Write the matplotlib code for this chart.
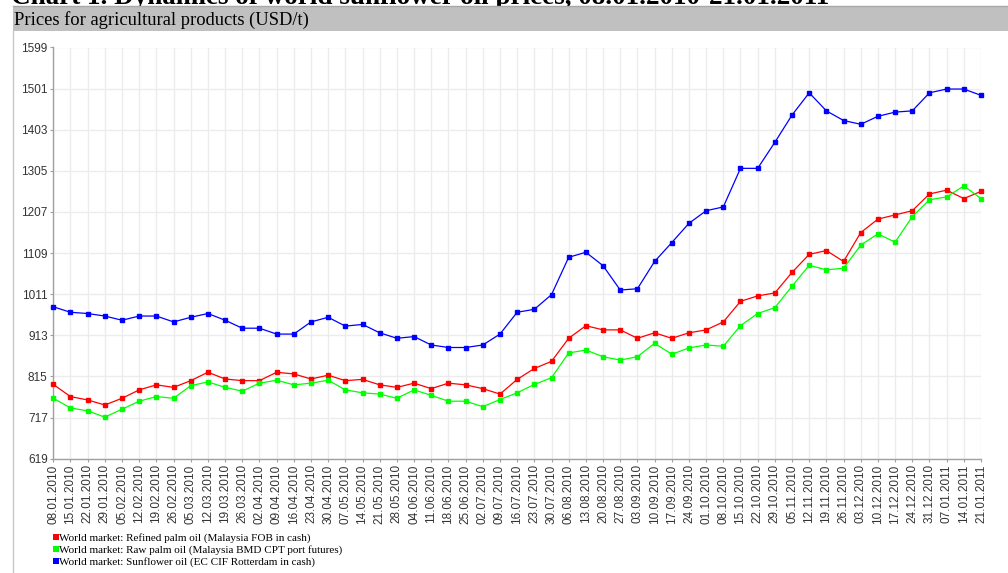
import matplotlib
matplotlib.use('Agg')
import matplotlib.pyplot as plt
from matplotlib.patches import Rectangle
from matplotlib.lines import Line2D

# weekly dates
dates = ['08.01.2010', '15.01.2010', '22.01.2010', '29.01.2010', '05.02.2010', '12.02.2010',
         '19.02.2010', '26.02.2010', '05.03.2010', '12.03.2010', '19.03.2010', '26.03.2010',
         '02.04.2010', '09.04.2010', '16.04.2010', '23.04.2010', '30.04.2010', '07.05.2010',
         '14.05.2010', '21.05.2010', '28.05.2010', '04.06.2010', '11.06.2010', '18.06.2010',
         '25.06.2010', '02.07.2010', '09.07.2010', '16.07.2010', '23.07.2010', '30.07.2010',
         '06.08.2010', '13.08.2010', '20.08.2010', '27.08.2010', '03.09.2010', '10.09.2010',
         '17.09.2010', '24.09.2010', '01.10.2010', '08.10.2010', '15.10.2010', '22.10.2010',
         '29.10.2010', '05.11.2010', '12.11.2010', '19.11.2010', '26.11.2010', '03.12.2010',
         '10.12.2010', '17.12.2010', '24.12.2010', '31.12.2010', '07.01.2011', '14.01.2011',
         '21.01.2011']

refined_palm = [796, 767, 759, 747, 763, 783, 795, 789, 805, 825, 809, 805, 805, 825, 821,
                809, 818, 805, 808, 795, 789, 799, 786, 799, 795, 786, 773, 808, 834, 851,
                906, 936, 926, 926, 906, 919, 906, 919, 926, 945, 994, 1007, 1014, 1063, 1106,
                1115, 1089, 1158, 1190, 1200, 1210, 1250, 1259, 1239, 1256]

raw_palm = [763, 740, 733, 718, 737, 756, 767, 763, 793, 802, 789, 780, 799, 806, 795,
            799, 806, 783, 776, 773, 763, 783, 770, 756, 756, 743, 760, 776, 796, 812,
            871, 878, 862, 854, 862, 894, 868, 883, 890, 887, 936, 965, 979, 1030, 1080,
            1069, 1073, 1128, 1155, 1135, 1196, 1236, 1243, 1269, 1239]

sunflower = [981, 968, 965, 959, 949, 959, 959, 945, 956, 965, 949, 930, 930, 916, 916,
             945, 956, 935, 939, 919, 906, 910, 890, 884, 884, 890, 916, 968, 975, 1010,
             1099, 1111, 1079, 1021, 1024, 1089, 1134, 1180, 1210, 1219, 1311, 1311, 1373, 1438, 1491,
             1448, 1425, 1416, 1435, 1445, 1448, 1491, 1500, 1500, 1485]

yticks = [619, 717, 815, 913, 1011, 1109, 1207, 1305, 1403, 1501, 1599]

names = ['World market: Refined palm oil (Malaysia FOB in cash)',
         'World market: Raw palm oil (Malaysia BMD CPT port futures)',
         'World market: Sunflower oil (EC CIF Rotterdam in cash)']
colors = ['#ff0000', '#00ff00', '#0000ff']

W, H = 1008, 573
fig = plt.figure(figsize=(W / 100, H / 100), dpi=100)

# cut off heading above the panel (only its lower edge shows)
fig.text(11 / W, 1 - 3.5 / H, 'Chart 1. Dynamics of world sunflower oil prices, 08.01.2010-21.01.2011',
         fontsize=19.5, fontweight='bold', family='Liberation Serif', va='baseline', zorder=1)

# gray title strip
fig.patches.append(Rectangle((13 / W, 1 - 31 / H), 1 - 13 / W, 25 / H, transform=fig.transFigure,
                             facecolor='#c0c0c0', edgecolor='none', zorder=2))
fig.lines.append(Line2D([13 / W, 1], [1 - 6 / H, 1 - 6 / H], transform=fig.transFigure,
                        color='#a8a8a8', lw=1, zorder=3))
fig.lines.append(Line2D([13 / W, 13 / W], [0, 1 - 31 / H], transform=fig.transFigure,
                        color='#c8c8c8', lw=1))
fig.text(13.5 / W, 1 - 24.5 / H, 'Prices for agricultural products (USD/t)', fontsize=13.3,
         family='Liberation Serif', va='baseline', zorder=4)

ax = fig.add_axes([53.3 / W, 1 - 458.7 / H, (981 - 53.3) / W, (458.7 - 47.5) / H])
x = list(range(len(dates)))
for vals, c in zip([refined_palm, raw_palm, sunflower], colors):
    ax.plot(x, vals, color=c, lw=0.9, marker='s', ms=3.3, mec=c, mfc=c, clip_on=False, zorder=3)

ax.set_xlim(0, len(dates) - 1)
ax.set_ylim(yticks[0], yticks[-1])
ax.set_xticks(x)
ax.set_xticklabels(dates, rotation=90, fontsize=8.5, family='Liberation Sans', color='#333333')
ax.set_yticks(yticks)
ax.set_yticklabels([str(v) for v in yticks], fontsize=8.5, family='Liberation Sans', color='#333333')
ax.grid(color='#ececec', lw=1)
ax.set_axisbelow(True)
for s in ['top', 'right']:
    ax.spines[s].set_visible(False)
for s in ['left', 'bottom']:
    ax.spines[s].set_color('#a0a0a0')
    ax.spines[s].set_linewidth(1)
ax.tick_params(length=2.5, color='#a0a0a0', width=0.8, pad=1.5)

# legend
for i, (name, c) in enumerate(zip(names, colors)):
    yc = 536.5 + i * 12.2
    fig.patches.append(Rectangle((52.7 / W, 1 - (yc + 3) / H), 6 / W, 6 / H, transform=fig.transFigure,
                                 facecolor=c, edgecolor='none'))
    fig.text(59 / W, 1 - (yc + 4) / H, name, fontsize=8, family='Liberation Serif', va='baseline')

plt.savefig('out.png', dpi=100)
